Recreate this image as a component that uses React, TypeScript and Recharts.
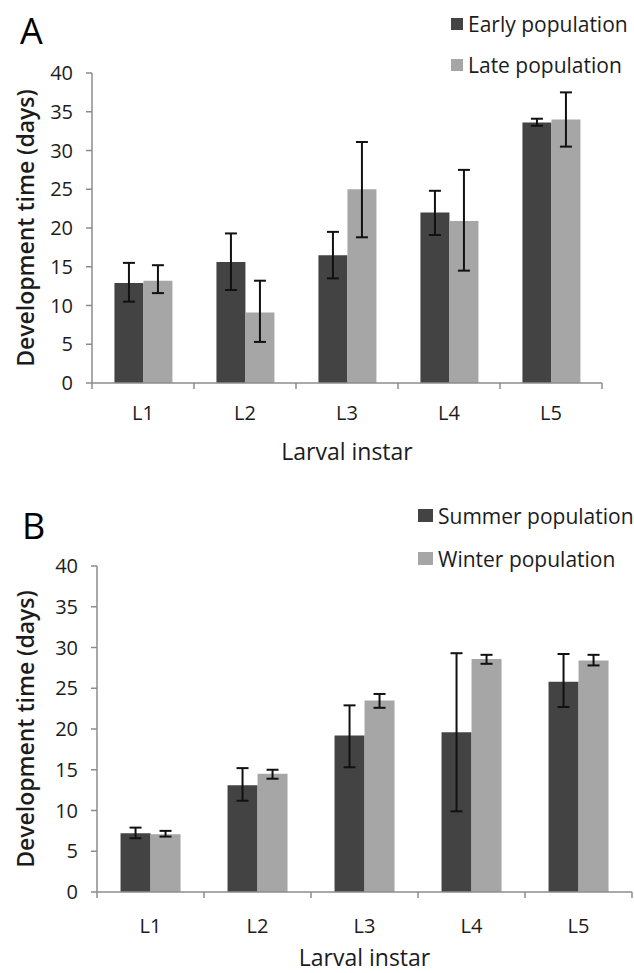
import React from "react";
import { BarChart, Bar, XAxis, YAxis, ErrorBar, Legend } from "recharts";

// categories + axis ticks
const instars = ["L1", "L2", "L3", "L4", "L5"];
const yTicks = [0, 5, 10, 15, 20, 25, 30, 35, 40];

// panel A: early vs late population (mean, lower / upper end of error bar)
const earlyMean = [12.9, 15.6, 16.5, 22.0, 33.6];
const earlyLow = [10.5, 12.0, 13.5, 19.1, 33.2];
const earlyHigh = [15.5, 19.3, 19.5, 24.8, 34.1];
const lateMean = [13.2, 9.1, 25.0, 20.9, 34.0];
const lateLow = [11.6, 5.3, 18.8, 14.5, 30.5];
const lateHigh = [15.2, 13.2, 31.1, 27.5, 37.5];

// panel B: summer vs winter population
const summerMean = [7.2, 13.1, 19.2, 19.6, 25.8];
const summerLow = [6.6, 11.2, 15.3, 9.9, 22.7];
const summerHigh = [7.9, 15.2, 22.9, 29.3, 29.2];
const winterMean = [7.1, 14.5, 23.5, 28.6, 28.4];
const winterLow = [6.8, 13.9, 22.6, 28.0, 27.8];
const winterHigh = [7.5, 15.0, 24.3, 29.1, 29.1];

const FONT = "'Open Sans', sans-serif";
const TEXT = "#1c1c1c";
const AXIS = "#8c8c8c";
const DARK = "#434343";
const LIGHT = "#a6a6a6";

const buildRows = (
  aMean: number[], aLow: number[], aHigh: number[],
  bMean: number[], bLow: number[], bHigh: number[]
) =>
  instars.map((name, i) => ({
    name,
    a: aMean[i],
    aErr: [aMean[i] - aLow[i], aHigh[i] - aMean[i]],
    b: bMean[i],
    bErr: [bMean[i] - bLow[i], bHigh[i] - bMean[i]],
  }));

const rowsA = buildRows(earlyMean, earlyLow, earlyHigh, lateMean, lateLow, lateHigh);
const rowsB = buildRows(summerMean, summerLow, summerHigh, winterMean, winterLow, winterHigh);

// category label + boundary tick marks (Excel style, between categories)
const makeTick = (band: number, axisY: number, dy: number) => (props: any) => {
  const { x, payload, index } = props;
  const left = x - band / 2;
  return (
    <g>
      <line x1={left} y1={axisY} x2={left} y2={axisY + 6} stroke={AXIS} strokeWidth={1.5} />
      {index === instars.length - 1 && (
        <line x1={x + band / 2} y1={axisY} x2={x + band / 2} y2={axisY + 6} stroke={AXIS} strokeWidth={1.5} />
      )}
      <text x={x} y={axisY + dy} textAnchor="middle" dominantBaseline="central"
        fontFamily={FONT} fontSize={20} fill={TEXT}>
        {payload.value}
      </text>
    </g>
  );
};

const legendBox = (swatchW: number, swatchH: number, rowH: number) => (props: any) => (
  <div style={{ fontFamily: FONT, fontSize: 21, color: TEXT, whiteSpace: "nowrap" }}>
    {props.payload.map((p: any) => (
      <div key={p.value} style={{ display: "flex", alignItems: "center", height: rowH }}>
        <span style={{ width: swatchW, height: swatchH, background: p.color, marginRight: 5, display: "inline-block" }} />
        {p.value}
      </div>
    ))}
  </div>
);

interface PanelProps {
  rows: any[];
  letter: string;
  top: number;
  height: number;
  plotTop: number;
  plotLeft: number;
  plotRight: number;
  plotBottom: number;
  names: [string, string];
  legendLeft: number;
  legendTop: number;
  swatch: [number, number];
  rowH: number;
  letterLeft: number;
  letterTop: number;
  tickDy: number;
  titleDy: number;
}

const Panel = (p: PanelProps) => {
  const W = 634;
  const xAxisH = 75;
  const band = (p.plotRight - p.plotLeft) / instars.length;
  const axisY = p.plotBottom - p.top;
  return (
    <div style={{ position: "absolute", left: 0, top: p.top, width: W, height: p.height }}>
      <div style={{ position: "absolute", left: p.letterLeft, top: p.letterTop, fontFamily: FONT,
        fontSize: 36, lineHeight: "36px", color: "#000" }}>
        {p.letter}
      </div>
      <BarChart
        width={W}
        height={p.height}
        data={p.rows}
        barCategoryGap="22%"
        barGap={0}
        margin={{ top: p.plotTop - p.top, left: 0, right: W - p.plotRight,
          bottom: p.top + p.height - p.plotBottom - xAxisH }}
      >
        <XAxis
          dataKey="name"
          height={xAxisH}
          axisLine={{ stroke: AXIS, strokeWidth: 1.5 }}
          tickLine={false}
          tick={makeTick(band, axisY, p.tickDy)}
          interval={0}
          label={{
            content: (lp: any) => (
              <text x={lp.viewBox.x + lp.viewBox.width / 2} y={lp.viewBox.y + p.titleDy} textAnchor="middle"
                dominantBaseline="central" fontFamily={FONT} fontSize={23} fill={TEXT}>
                Larval instar
              </text>
            ),
          }}
        />
        <YAxis
          width={p.plotLeft}
          domain={[0, 40]}
          ticks={yTicks}
          interval={0}
          axisLine={{ stroke: AXIS, strokeWidth: 1.5 }}
          tickLine={{ stroke: AXIS, strokeWidth: 1.5 }}
          tickSize={6}
          tickMargin={13}
          tick={{ fontFamily: FONT, fontSize: 20, fill: TEXT }}
          label={{
            content: (lp: any) => {
              const cx = 25;
              const cy = lp.viewBox.y + lp.viewBox.height / 2;
              return (
                <text x={cx} y={cy} transform={`rotate(-90 ${cx} ${cy})`} textAnchor="middle"
                  dominantBaseline="central" fontFamily={FONT} fontSize={23} fontWeight={600} fill={TEXT}>
                  Development time (days)
                </text>
              );
            },
          }}
        />
        <Legend
          layout="vertical"
          align="center"
          verticalAlign="middle"
          content={legendBox(p.swatch[0], p.swatch[1], p.rowH)}
          wrapperStyle={{ left: p.legendLeft, top: p.legendTop, width: "auto", height: "auto" }}
        />
        <Bar dataKey="a" name={p.names[0]} fill={DARK} isAnimationActive={false}>
          <ErrorBar dataKey="aErr" width={6} strokeWidth={2} stroke="#111" isAnimationActive={false} />
        </Bar>
        <Bar dataKey="b" name={p.names[1]} fill={LIGHT} isAnimationActive={false}>
          <ErrorBar dataKey="bErr" width={6} strokeWidth={2} stroke="#111" isAnimationActive={false} />
        </Bar>
      </BarChart>
    </div>
  );
};

export default function App() {
  return (
    <div style={{ position: "absolute", left: 0, top: 0, width: 634, height: 973, background: "#fff" }}>
      <Panel
        rows={rowsA}
        letter="A"
        top={0}
        height={480}
        plotTop={73}
        plotLeft={92}
        plotRight={602}
        plotBottom={383}
        names={["Early population", "Late population"]}
        legendLeft={451}
        legendTop={3}
        swatch={[12, 12]}
        rowH={41}
        letterLeft={20}
        letterTop={13}
        tickDy={29}
        titleDy={68}
      />
      <Panel
        rows={rowsB}
        letter="B"
        top={490}
        height={483}
        plotTop={566}
        plotLeft={97}
        plotRight={632}
        plotBottom={892}
        names={["Summer population", "Winter population"]}
        legendLeft={418}
        legendTop={4}
        swatch={[15, 13]}
        rowH={43}
        letterLeft={22}
        letterTop={18}
        tickDy={33}
        titleDy={65}
      />
    </div>
  );
}
